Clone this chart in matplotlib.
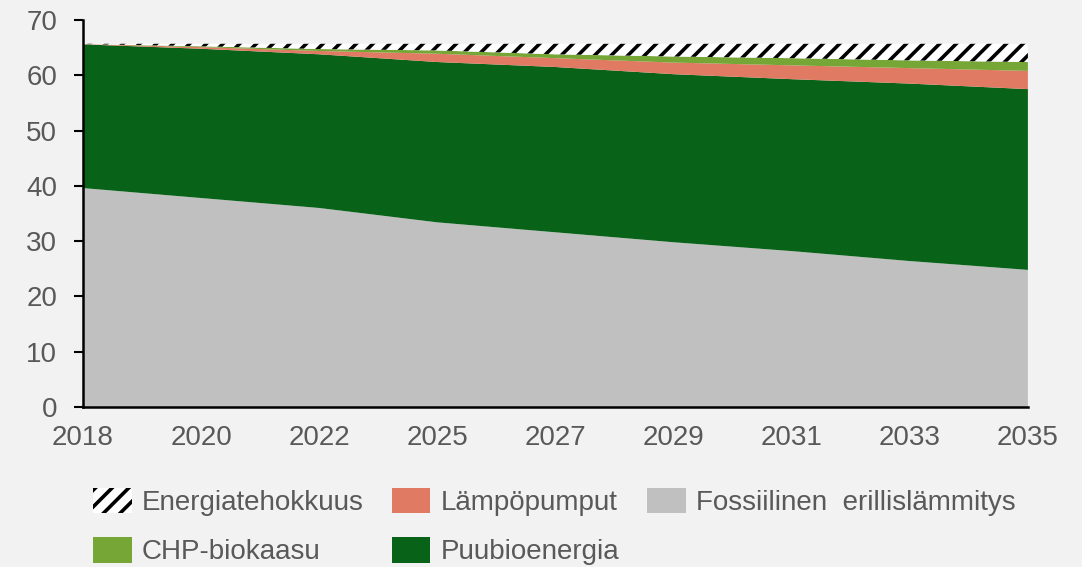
import numpy as np
import matplotlib
matplotlib.use("Agg")
import matplotlib.pyplot as plt

# Lämmityksen energiankulutus lähteittäin, 2018-2035
years = ["2018", "2020", "2022", "2025", "2027", "2029", "2031", "2033", "2035"]
fossiilinen = [39.6, 37.8, 36.0, 33.4, 31.6, 29.8, 28.2, 26.4, 24.8]
puubioenergia = [26.0, 27.0, 27.8, 29.0, 29.9, 30.4, 31.1, 32.1, 32.7]
lampopumput = [0.05, 0.3, 0.6, 1.5, 1.6, 2.1, 2.5, 2.8, 3.3]
chp_biokaasu = [0.0, 0.15, 0.35, 0.6, 0.7, 1.1, 1.3, 1.4, 1.6]
energiatehokkuus = [0.05, 0.45, 0.95, 1.2, 1.9, 2.3, 2.6, 3.0, 3.3]

bg = "#f2f2f2"
txt = "#595959"
plt.rcParams["font.family"] = ["Liberation Sans", "DejaVu Sans"]
plt.rcParams["hatch.linewidth"] = 2.6

fig = plt.figure(figsize=(10.82, 5.67), dpi=100, facecolor=bg)
ax = fig.add_axes([0.0767, 0.2822, 0.8733, 0.6825])
ax.set_facecolor(bg)

x = np.arange(len(years))
polys = ax.stackplot(
    x, fossiilinen, puubioenergia, lampopumput, chp_biokaasu, energiatehokkuus,
    colors=["#c0c0c0", "#086318", "#e07a63", "#76a636", "white"],
    labels=["Fossiilinen  erillislämmitys", "Puubioenergia", "Lämpöpumput",
            "CHP-biokaasu", "Energiatehokkuus"],
    linewidth=0,
)
p_fos, p_puu, p_lamp, p_chp, p_ene = polys
p_ene.set_hatch("//")
p_ene.set_edgecolor("black")
p_ene.set_linewidth(0)

ax.set_xlim(0, len(years) - 1)
ax.set_ylim(0, 70)
ax.set_xticks(x)
ax.set_xticklabels(years)
ax.set_yticks(range(0, 71, 10))
ax.tick_params(axis="x", length=0, pad=13, labelsize=20, labelcolor=txt)
ax.tick_params(axis="y", length=6.5, width=1.5, pad=12, labelsize=20, labelcolor=txt)
for s in ["top", "right"]:
    ax.spines[s].set_visible(False)
for s in ["left", "bottom"]:
    ax.spines[s].set_linewidth(1.8)
    ax.spines[s].set_color("black")

# legend order gives rows: Energiatehokkuus / Lämpöpumput / Fossiilinen, then CHP / Puu
leg = fig.legend(
    handles=[p_ene, p_chp, p_lamp, p_puu, p_fos],
    labels=["Energiatehokkuus", "CHP-biokaasu", "Lämpöpumput", "Puubioenergia",
            "Fossiilinen  erillislämmitys"],
    ncol=3, loc="upper left", bbox_to_anchor=(0.086, 0.140),
    frameon=False, fontsize=20, labelcolor=txt,
    handlelength=1.4, handleheight=1.05, handletextpad=0.36,
    columnspacing=1.0, labelspacing=0.75, borderpad=0, borderaxespad=0,
)

fig.savefig("out.png", dpi=100, facecolor=bg)
